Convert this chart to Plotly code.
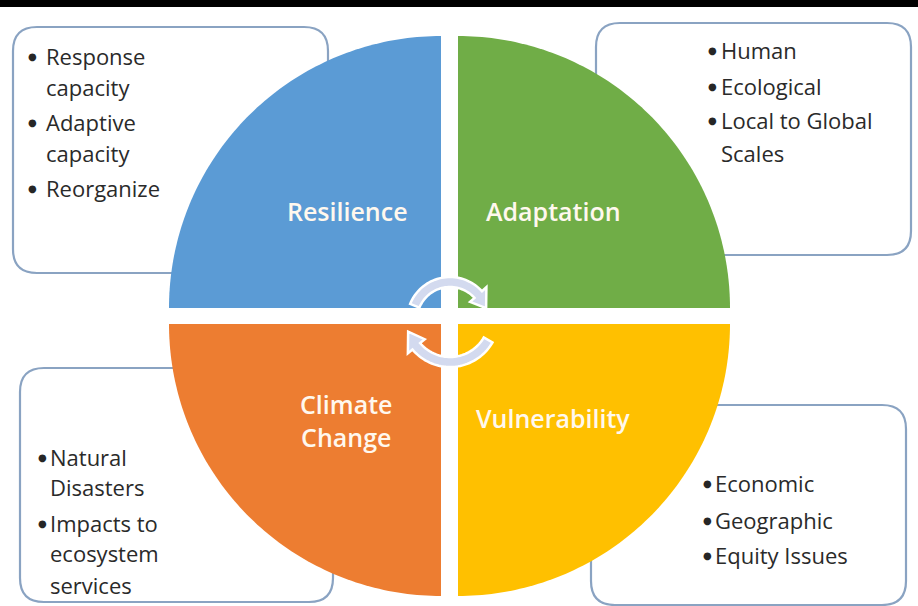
import numpy as np
import plotly.graph_objects as go

W, H = 918, 606

# ---- content ----
quadrant_names = ["Resilience", "Adaptation", "Climate<br>Change", "Vulnerability"]
quadrant_colors = ["#5B9BD5", "#70AD47", "#ED7D31", "#FFC000"]
quadrant_centers = [(441, 308), (458, 308), (441, 324), (458, 324)]
quadrant_angles = [(90, 180), (0, 90), (180, 270), (270, 360)]
quadrant_radius = 272
label_pos = [(347, 211), (553, 211), (346, 420), (553, 418)]

box_rects = [(13, 27, 328, 273), (596, 23, 911, 255), (20, 368, 333, 602), (591, 405, 906, 605)]

box_tl = ["•Response", "capacity", "•Adaptive", "capacity", "•Reorganize"]
box_tl_y = [56, 87, 122, 153, 188]
box_tr = ["•Human", "•Ecological", "•Local to Global", "Scales"]
box_tr_y = [50, 86, 120, 153]
box_bl = ["•Natural", "Disasters", "•Impacts to", "ecosystem", "services"]
box_bl_y = [457, 487, 523, 553, 585]
box_br = ["•Economic", "•Geographic", "•Equity Issues"]
box_br_y = [483, 520, 555]
box_texts = [box_tl, box_tr, box_bl, box_br]
box_text_y = [box_tl_y, box_tr_y, box_bl_y, box_br_y]
box_bullet_x = [32, 712, 42, 707]
box_indent_x = [44, 719, 48, 713]

FONT = "Open Sans"
shapes = []
annotations = []

# black strip at top
shapes.append(dict(type="rect", x0=-5, x1=W + 5, y0=-5, y1=7, fillcolor="black", line_width=0, layer="above"))

def rounded_rect(x0, y0, x1, y1, r):
    return (f"M {x0+r},{y0} L {x1-r},{y0} Q {x1},{y0} {x1},{y0+r} "
            f"L {x1},{y1-r} Q {x1},{y1} {x1-r},{y1} L {x0+r},{y1} "
            f"Q {x0},{y1} {x0},{y1-r} L {x0},{y0+r} Q {x0},{y0} {x0+r},{y0} Z")

for (x0, y0, x1, y1) in box_rects:
    shapes.append(dict(type="path", path=rounded_rect(x0, y0, x1, y1, 24),
                       fillcolor="white", line=dict(color="#8AA3C2", width=2.2), layer="above"))

# quadrants
for (cx, cy), (a0, a1), col in zip(quadrant_centers, quadrant_angles, quadrant_colors):
    th = np.radians(np.linspace(a0, a1, 90))
    xs = cx + quadrant_radius * np.cos(th)
    ys = cy - quadrant_radius * np.sin(th)
    pts = [f"{cx},{cy}"] + [f"{x:.2f},{y:.2f}" for x, y in zip(xs, ys)]
    path = "M " + " L ".join(pts) + " Z"
    shapes.append(dict(type="path", path=path, fillcolor=col, line_width=0, layer="above"))

# curved arrows
def arc_arrow(cx, cy, r, a_start, a_end, a_tip, band=10, head=22):
    t = np.radians(np.linspace(a_start, a_end, 40))
    ro, ri = r + band / 2, r - band / 2
    outer = [(cx + ro * np.cos(a), cy - ro * np.sin(a)) for a in t]
    inner = [(cx + ri * np.cos(a), cy - ri * np.sin(a)) for a in t[::-1]]
    ae = np.radians(a_end)
    at = np.radians(a_tip)
    ho, hi = r + head / 2, r - head / 2
    head_pts = [(cx + ho * np.cos(ae), cy - ho * np.sin(ae)),
                (cx + r * np.cos(at), cy - r * np.sin(at)),
                (cx + hi * np.cos(ae), cy - hi * np.sin(ae))]
    pts = outer + head_pts + inner
    return "M " + " L ".join(f"{x:.2f},{y:.2f}" for x, y in pts) + " Z"

arrow_specs = [(450, 320, 38, 158, 42, 18), (450, 318, 44, -30, -140, -162)]
for spec in arrow_specs:
    shapes.append(dict(type="path", path=arc_arrow(*spec), fillcolor="#D3DAEF",
                       line=dict(color="white", width=2.5), layer="above"))

# quadrant labels
for name, (x, y) in zip(quadrant_names, label_pos):
    annotations.append(dict(x=x, y=y, text=name, showarrow=False, xanchor="center", yanchor="middle",
                            font=dict(family=FONT, size=25, color="#FFF8EE", weight=600)))

# box texts
for lines, ys, bx, ix in zip(box_texts, box_text_y, box_bullet_x, box_indent_x):
    for line, y in zip(lines, ys):
        if line.startswith("•"):
            annotations.append(dict(x=bx, y=y, text="●", showarrow=False, xanchor="center", yanchor="middle",
                                    font=dict(family="DejaVu Sans", size=10, color="#262626")))
            line = line[1:]
        annotations.append(dict(x=ix, y=y, text=line, showarrow=False, xanchor="left", yanchor="middle",
                                font=dict(family=FONT, size=22, color="#2A2A2A")))

fig = go.Figure()
fig.update_layout(
    width=W, height=H, autosize=False,
    margin=dict(l=0, r=0, t=0, b=0),
    paper_bgcolor="white", plot_bgcolor="white",
    xaxis=dict(range=[0, W], visible=False, fixedrange=True),
    yaxis=dict(range=[H, 0], visible=False, fixedrange=True),
    shapes=shapes, annotations=annotations, showlegend=False,
)
fig.write_html("out.html", post_script="document.body.style.margin='0';document.body.style.padding='0';",
               config={"displayModeBar": False})
